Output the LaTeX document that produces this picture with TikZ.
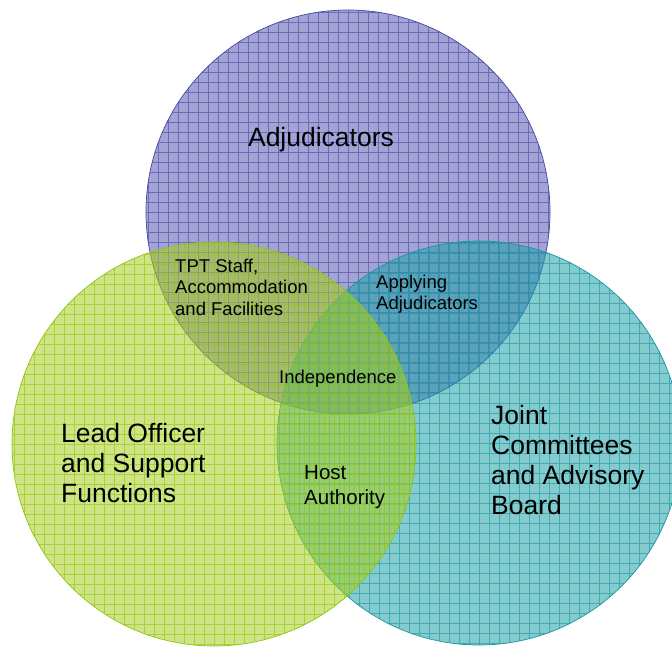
\documentclass[tikz,border=0pt]{standalone}
\usepackage{fontspec}
\setmainfont{Liberation Sans}
\definecolor{adjfill}{RGB}{88,88,178}
\definecolor{adjline}{RGB}{70,70,165}
\definecolor{leadfill}{RGB}{168,208,30}
\definecolor{leadline}{RGB}{145,195,20}
\definecolor{jointfill}{RGB}{30,160,165}
\definecolor{jointline}{RGB}{25,150,158}

\begin{document}
\begin{tikzpicture}[x=1pt, y=-1pt,
    ring/.style={circle, inner sep=0pt, minimum size=404pt, line width=0.7pt,
      draw=#1line, fill=#1fill, fill opacity=0.55,
      path picture={\draw[#1line, line width=0.8pt, draw opacity=0.6]
        (path picture bounding box.south west) grid[step=10pt] (path picture bounding box.north east);}},
    big/.style={align=left, inner sep=0pt, font=\fontsize{26.5}{30}\selectfont},
    small/.style={align=left, inner sep=0pt, font=\fontsize{18.5}{21.5}\selectfont}]
  \useasboundingbox (0,0) rectangle (672,646);
  \clip (0,0) rectangle (672,646);

  % Circles
  \node[ring=adj] (adj) at (348,212) {};
  \node[ring=joint] (joint) at (479,443) {};
  \node[ring=lead] (lead) at (214,444) {};

  % Main labels
  \node[big] (adjtext) at (321,140) {Adjudicators};
  \node[big, anchor=west] (leadtext) at (61,463) {Lead Officer\\and Support\\Functions};
  \node[big, anchor=west] (jointtext) at (491,460) {Joint\\Committees\\and Advisory\\Board};

  % Overlaps
  \node[small, anchor=west] (tpt) at (175,287) {TPT Staff,\\Accommodation\\and Facilities};
  \node[small, anchor=west] (applying) at (376,294) {Applying\\Adjudicators};
  \node[small, anchor=west] (indep) at (279,379) {Independence};
  \node[small, anchor=west, font=\fontsize{20.5}{25}\selectfont] (host) at (304,487) {Host\\Authority};
\end{tikzpicture}
\end{document}
